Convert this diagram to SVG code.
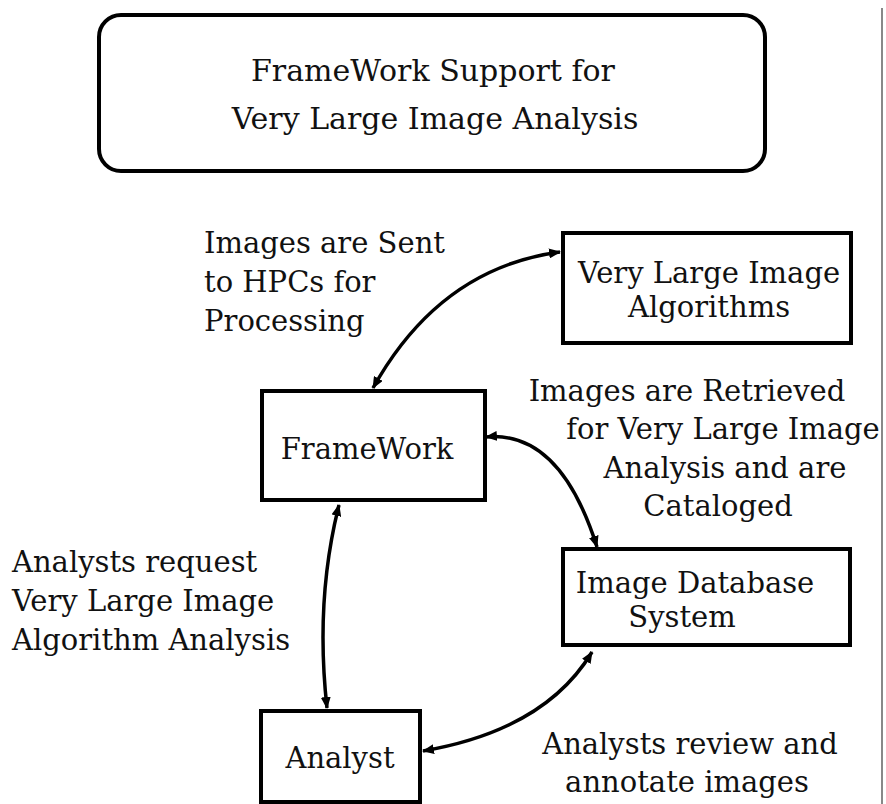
<svg xmlns="http://www.w3.org/2000/svg" width="886" height="804" viewBox="0 0 886 804">
<defs>
<marker id="ah" viewBox="0 0 12 10" refX="11" refY="5" markerWidth="12" markerHeight="10" markerUnits="userSpaceOnUse" orient="auto-start-reverse">
<path d="M0,0 L12,5 L0,10 z" fill="#000"/>
</marker>
<style>
text{font-family:"DejaVu Serif","Liberation Serif",serif;fill:#111;}
.t{font-size:29px;}
.ttl{font-size:30px;}
.box{fill:#fff;stroke:#000;stroke-width:4;}
.c{fill:none;stroke:#000;stroke-width:3.5;marker-start:url(#ah);marker-end:url(#ah);}
</style>
</defs>
<rect width="886" height="804" fill="#fff"/>
<line x1="882" y1="8" x2="882" y2="804" stroke="#888" stroke-width="2"/>
<g id="title">
<rect class="box" x="99" y="15" width="666" height="156" rx="22"/>
<text class="ttl" x="433" y="81" text-anchor="middle">FrameWork Support for</text>
<text class="ttl" x="435" y="129" text-anchor="middle">Very Large Image Analysis</text>
</g>
<g id="connectors">
<path class="c" d="M373,388 Q440,268 560,252"/>
<path class="c" d="M486,437 Q560,430 597,547"/>
<path class="c" d="M339,505 Q315,600 327,708"/>
<path class="c" d="M423,751 Q545,730 592,652"/>
</g>
<g id="algorithms">
<rect class="box" x="563" y="233" width="288" height="110"/>
<text class="t" x="709" y="283" text-anchor="middle">Very Large Image</text>
<text class="t" x="709" y="317" text-anchor="middle">Algorithms</text>
</g>
<g id="framework">
<rect class="box" x="262" y="391" width="223" height="109"/>
<text class="t" x="367" y="459" text-anchor="middle">FrameWork</text>
</g>
<g id="database">
<rect class="box" x="563" y="549" width="287" height="96"/>
<text class="t" x="695" y="593" text-anchor="middle">Image Database</text>
<text class="t" x="682" y="627" text-anchor="middle">System</text>
</g>
<g id="analyst">
<rect class="box" x="261" y="711" width="159" height="91"/>
<text class="t" x="340" y="768" text-anchor="middle">Analyst</text>
</g>
<g id="labels">
<text class="t" x="204" y="253">Images are Sent</text>
<text class="t" x="204" y="292">to HPCs for</text>
<text class="t" x="204" y="331">Processing</text>
<text class="t" x="687" y="401" text-anchor="middle">Images are Retrieved</text>
<text class="t" x="723" y="439" text-anchor="middle">for Very Large Image</text>
<text class="t" x="725" y="478" text-anchor="middle">Analysis and are</text>
<text class="t" x="718" y="516" text-anchor="middle">Cataloged</text>
<text class="t" x="12" y="572">Analysts request</text>
<text class="t" x="12" y="611">Very Large Image</text>
<text class="t" x="12" y="650">Algorithm Analysis</text>
<text class="t" x="690" y="754" text-anchor="middle">Analysts review and</text>
<text class="t" x="687" y="792" text-anchor="middle">annotate images</text>
</g>
</svg>
